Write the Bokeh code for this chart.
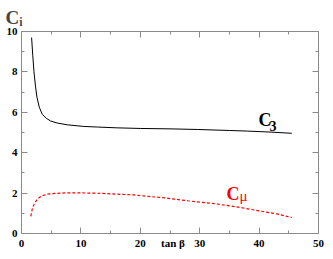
from bokeh.plotting import figure
from bokeh.models import (LinearAxis, SingleIntervalTicker, FixedTicker, Label, Range1d,
                          CustomJSTickFormatter, Title)
from bokeh.embed import file_html
from bokeh.resources import INLINE

# C3 curve
tanb_c3 = [1.7, 1.9, 2.1, 2.35, 2.6, 3.0, 3.5, 4.2, 4.9, 6.0, 7.7, 10.5, 12.8, 16.1, 20, 25, 29.6, 35, 38, 42, 45.5]
c3 = [9.70, 8.80, 8.00, 7.30, 6.75, 6.25, 5.90, 5.70, 5.57, 5.47, 5.38, 5.30, 5.27, 5.23, 5.20, 5.18, 5.15, 5.10, 5.07, 5.02, 4.96]

# C_mu curve
tanb_cmu = [1.57, 1.85, 2.2, 2.7, 3.4, 4.4, 6.0, 7.7, 10, 13.3, 16, 18.9, 22, 24.5, 28, 32.9, 37, 40, 43, 45.5]
cmu = [0.85, 1.26, 1.50, 1.71, 1.86, 1.95, 1.99, 2.01, 2.01, 1.99, 1.95, 1.91, 1.82, 1.75, 1.62, 1.46, 1.28, 1.12, 0.97, 0.79]

x_ticks_step = 10
y_ticks_step = 2
x_label_ticks = [0, 10, 20, 30, 40, 50]
x_title_pos = 25.5
x_title = "tan β"
y_title = "Cᵢ"

GREY = "#8a8a8a"
FONT = "Liberation Serif"

p = figure(width=325, height=251, output_backend="svg", toolbar_location=None,
           x_range=Range1d(0, 50), y_range=Range1d(0, 10),
           x_axis_location=None, y_axis_location=None,
           min_border_left=21, min_border_right=7, min_border_top=29, min_border_bottom=14)
p.grid.visible = False
p.outline_line_color = GREY
p.background_fill_color = "white"
p.border_fill_color = "white"


def style(ax):
    ax.axis_line_color = GREY
    ax.major_tick_line_color = GREY
    ax.minor_tick_line_color = GREY
    ax.major_tick_in = 6
    ax.major_tick_out = 0
    ax.minor_tick_in = 3
    ax.minor_tick_out = 0
    ax.major_label_text_font = FONT
    ax.major_label_text_font_style = "bold"
    ax.major_label_text_color = "black"
    ax.major_label_text_font_size = "11px"
    return ax


def ticks_only(step):
    ax = style(LinearAxis(ticker=SingleIntervalTicker(interval=step, num_minor_ticks=2)))
    ax.formatter = CustomJSTickFormatter(code="return ''")
    ax.major_label_standoff = 0
    return ax


# bottom: tick marks (inner) + labels (outer, incl. axis title)
p.add_layout(ticks_only(x_ticks_step), "below")
xlab = style(LinearAxis(ticker=FixedTicker(ticks=x_label_ticks + [x_title_pos], minor_ticks=[])))
xlab.axis_line_color = None
xlab.major_tick_line_color = None
xlab.minor_tick_line_color = None
xlab.major_label_standoff = 3
xlab.major_label_overrides = {x_title_pos: x_title}
p.add_layout(xlab, "below")

yax = style(LinearAxis(ticker=SingleIntervalTicker(interval=y_ticks_step, num_minor_ticks=2)))
yax.major_label_standoff = 4
p.add_layout(yax, "left")
p.add_layout(ticks_only(x_ticks_step), "above")
p.add_layout(ticks_only(y_ticks_step), "right")

p.add_layout(Title(text=y_title, align="left", offset=-16, standoff=8,
                   text_font=FONT, text_font_size="19px", text_font_style="bold"), "above")

p.line(tanb_c3, c3, line_color="black", line_width=1)
p.line(tanb_cmu, cmu, line_color="red", line_width=1.2, line_dash="3 2")


def lab(x, y, t, size, color="black", bold=True):
    p.add_layout(Label(x=x, y=y, text=t, text_font=FONT, text_font_size=size,
                       text_font_style="bold" if bold else "normal",
                       text_color=color, text_baseline="alphabetic", text_align="left"))


# C_3
lab(39.9, 5.63, "C", "18px")
lab(41.75, 5.34, "3", "14px")
# C_mu
lab(34.5, 1.97, "C", "18px", "red")
lab(36.7, 1.87, "μ", "15px", "red", bold=False)

open("out.html", "w").write(file_html(p, INLINE))
